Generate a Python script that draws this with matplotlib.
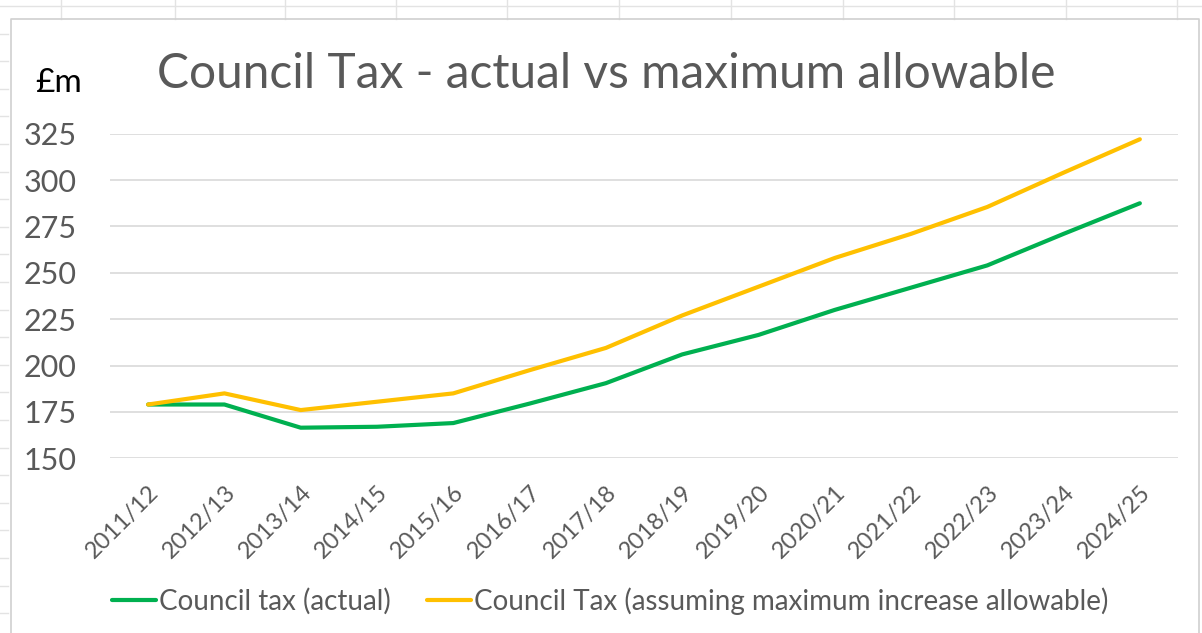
import matplotlib
matplotlib.use("Agg")
import matplotlib.pyplot as plt
from matplotlib.lines import Line2D

years = ['2011/12', '2012/13', '2013/14', '2014/15', '2015/16', '2016/17', '2017/18',
         '2018/19', '2019/20', '2020/21', '2021/22', '2022/23', '2023/24', '2024/25']
actual = [179, 179, 166.5, 167, 169, 179.5, 190.5, 206, 216.5, 230, 242, 254, 271, 287.5]
maximum = [179, 185, 176, 180.5, 185, 197.5, 209.5, 227, 242.5, 258, 271, 285.5, 304, 322]
yticks = [150, 175, 200, 225, 250, 275, 300, 325]

W, H = 1202, 633
plt.rcParams['font.family'] = ['Lato', 'DejaVu Sans']

fig = plt.figure(figsize=(W / 100, H / 100), dpi=100)


def px(x):
    return x / W


def py(y):
    return 1 - y / H


# spreadsheet cells behind the chart
cell = '#e3e3e3'
for x in [61, 175, 285, 396, 507, 619, 731, 843, 954, 1066, 1177]:
    fig.add_artist(Line2D([px(x), px(x)], [py(0), py(19)], color=cell, lw=1))
fig.add_artist(Line2D([0, 1], [py(6), py(6)], color=cell, lw=1))
for k in range(1, 23):
    y = 6 + 27.6 * k
    fig.add_artist(Line2D([0, px(8)], [py(y), py(y)], color=cell, lw=1))

# chart border
fig.add_artist(Line2D([px(11), px(11), px(1199), px(1199)], [0, py(19), py(19), 0],
                      color='#d0d0d0', lw=1.2))

ax = fig.add_axes([px(110), py(458.3), px(1178 - 110), (458.3 - 133.7) / H])
x = range(len(years))
ax.plot(x, actual, color='#00B050', lw=3, solid_capstyle='round',
        label='Council tax (actual)')
ax.plot(x, maximum, color='#FFC000', lw=3, solid_capstyle='round',
        label='Council Tax (assuming maximum increase allowable)')

ax.set_xlim(-0.5, len(years) - 0.5)
ax.set_ylim(150, 325)
ax.set_yticks(yticks)
ax.set_xticks(list(x))
ax.set_xticklabels(years, rotation=45, ha='right', rotation_mode='anchor')
ax.tick_params(axis='y', length=0, pad=24, labelsize=22, labelcolor='#595959')
ax.tick_params(axis='x', length=0, pad=17, labelsize=17, labelcolor='#595959')
ax.grid(axis='y', color='#d9d9d9', lw=1.2)
ax.set_axisbelow(True)
for s in ax.spines.values():
    s.set_visible(False)

fig.text(px(606), py(88), 'Council Tax - actual vs maximum allowable',
         ha='center', va='baseline', fontsize=34.5, color='#595959')
fig.text(px(35), py(92), '£m', ha='left', va='baseline', fontsize=24, color='black')

fig.legend(loc='center', bbox_to_anchor=(px(610), py(601)), ncol=2, frameon=False,
           fontsize=20, handlelength=1.6, handletextpad=0.1, columnspacing=1.3,
           labelcolor='#595959')

fig.savefig('out.png', dpi=100)
